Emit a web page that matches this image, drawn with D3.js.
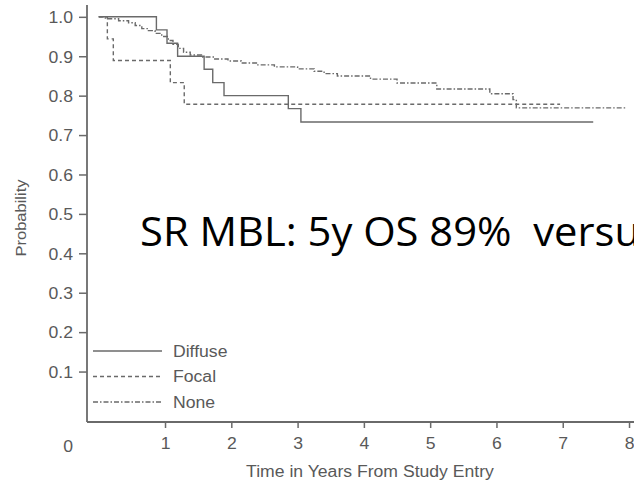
<!DOCTYPE html>
<html><head><meta charset="utf-8">
<script src="https://cdn.jsdelivr.net/npm/d3@7/dist/d3.min.js"></script>
<style>body{margin:0;background:#fff;overflow:hidden}svg{display:block}</style>
</head><body>
<script>
const xTicks = [1,2,3,4,5,6,7,8];
const yTicks = [0.1,0.2,0.3,0.4,0.5,0.6,0.7,0.8,0.9,1.0];
const seriesNames = ["Diffuse","Focal","None"];
const diffuseTimes = [0, 0.87, 1.03, 1.19, 1.59, 1.72, 1.89, 2.86, 3.05, 7.46];
const diffuseSurv  = [1, 0.967, 0.933, 0.9, 0.867, 0.833, 0.8, 0.767, 0.733, 0.733];
const focalTimes = [0, 0.13, 0.22, 1.08, 1.29, 6.96];
const focalSurv  = [1, 0.944, 0.889, 0.833, 0.778, 0.778];
const noneTimes = [0, 0.1, 0.3, 0.45, 0.55, 0.65, 0.75, 0.85, 0.95, 1.05, 1.12, 1.2, 1.28, 1.38, 1.55, 1.75, 1.95, 2.15, 2.4, 2.65, 3.0, 3.25, 3.4, 3.6, 4.1, 4.5, 5.1, 5.9, 6.25, 6.3, 7.97];
const noneSurv  = [1, 0.995, 0.99, 0.985, 0.978, 0.97, 0.965, 0.958, 0.95, 0.94, 0.93, 0.92, 0.91, 0.903, 0.898, 0.893, 0.888, 0.883, 0.878, 0.873, 0.868, 0.862, 0.856, 0.85, 0.842, 0.832, 0.817, 0.805, 0.79, 0.769, 0.769];
const overlayText = "SR MBL: 5y OS 89%  versu";

const W = 634, H = 483;
const svg = d3.select("body").append("svg").attr("width", W).attr("height", H);

const x = d3.scaleLinear().domain([-0.177, 8.075]).range([87, 634]);
const y = d3.scaleLinear().domain([-0.028, 1.03]).range([422, 5]);
const grey = "#6a6a6a";
const txt = "#595959";
const FONT = "Liberation Sans, Arial, sans-serif";
const STRETCH = 1.1;
function stretch(sel) {
  sel.each(function() {
    const len = this.getComputedTextLength();
    d3.select(this).attr("textLength", len * STRETCH).attr("lengthAdjust", "spacingAndGlyphs");
  });
}

// axes
const yAxis = d3.axisLeft(y).tickValues(yTicks).tickFormat(d3.format(".1f")).tickSize(8).tickPadding(6);
const gy = svg.append("g").attr("transform", "translate(87,0)").call(yAxis);
const xAxis = d3.axisBottom(x).tickValues(xTicks).tickFormat(d3.format("d")).tickSize(6).tickPadding(10);
const gx = svg.append("g").attr("transform", "translate(0,422)").call(xAxis);
[gx, gy].forEach(g => {
  g.select(".domain").attr("stroke", grey).attr("stroke-width", 1.8);
  g.selectAll(".tick line").attr("stroke", grey).attr("stroke-width", 1.5);
  g.selectAll(".tick text").attr("fill", txt).style("font-family", FONT).style("font-size", "16px");
});
gy.select(".domain").attr("d", `M0,${y.range()[1]}V${y.range()[0]}`);
gx.select(".domain").attr("d", `M${x.range()[0]},0H${x.range()[1]}`);
gy.selectAll(".tick text").attr("dy", "0.36em").call(stretch);
gx.selectAll(".tick text").call(stretch);

// "0" label at origin corner
svg.append("text").attr("x", 73).attr("y", 452).attr("text-anchor", "end")
  .attr("fill", txt).style("font-family", FONT).style("font-size", "16px").text("0").call(stretch);

// axis titles
svg.append("text").attr("transform", "translate(26,218) rotate(-90)").attr("text-anchor", "middle")
  .attr("fill", txt).style("font-family", FONT).style("font-size", "15px").text("Probability").call(stretch);
svg.append("text").attr("x", 370).attr("y", 477).attr("text-anchor", "middle")
  .attr("fill", txt).style("font-family", FONT).style("font-size", "16px").text("Time in Years From Study Entry").call(stretch);

// curves
const line = d3.line().x(d => x(d[0])).y(d => y(d[1])).curve(d3.curveStepAfter);
const series = [
  {name: seriesNames[0], t: diffuseTimes, s: diffuseSurv, dash: null},
  {name: seriesNames[1], t: focalTimes, s: focalSurv, dash: "4,3"},
  {name: seriesNames[2], t: noneTimes, s: noneSurv, dash: "5,2,1.5,2"}
];
series.forEach(sr => {
  svg.append("path").datum(sr.t.map((t, i) => [t, sr.s[i]]))
    .attr("d", line).attr("fill", "none").attr("stroke", grey).attr("stroke-width", 1.4)
    .attr("stroke-dasharray", sr.dash);
});

// legend
const leg = svg.append("g");
series.forEach((sr, i) => {
  const ly = 351 + i * 25.5;
  leg.append("line").attr("x1", 93).attr("x2", 162).attr("y1", ly).attr("y2", ly)
    .attr("stroke", grey).attr("stroke-width", 1.3).attr("stroke-dasharray", sr.dash);
  leg.append("text").attr("x", 173).attr("y", ly + 5.5).attr("fill", txt)
    .style("font-family", FONT).style("font-size", "16px").text(sr.name).call(stretch);
});

// overlay text
svg.append("text").attr("x", 140).attr("y", 246).attr("fill", "#000")
  .style("font-family", "Open Sans, sans-serif").style("font-size", "41px").style("white-space", "pre")
  .attr("textLength", 500).attr("lengthAdjust", "spacingAndGlyphs")
  .text(overlayText);
</script>
</body></html>
